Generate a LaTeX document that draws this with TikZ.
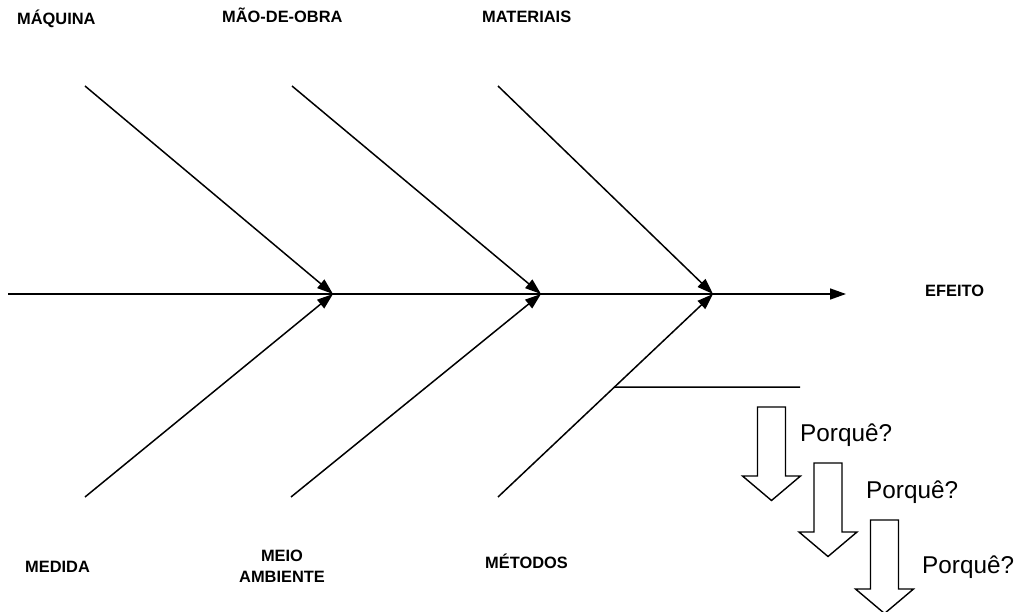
\documentclass[tikz,border=0pt]{standalone}
\usepackage{fontspec}
\setmainfont{Liberation Sans}
\usetikzlibrary{arrows.meta,calc}

\tikzset{
  bone/.style={line width=1.5pt, -{Triangle[length=16pt,width=11pt]}},
  spine/.style={line width=1.5pt, -{Triangle[length=16pt,width=11pt]}},
  branch/.style={line width=1.5pt},
  cat/.style={font=\fontsize{16.4}{19}\selectfont\bfseries, inner sep=0pt, anchor=base west},
  why/.style={font=\fontsize{24.3}{28}\selectfont, inner sep=0pt, anchor=base west},
  whyarrow/.pic={
    \draw[line width=1.4pt, fill=white, line join=miter]
      (-14,0) -- (14,0) -- (14,69) -- (29,69) -- (0,93.5) -- (-29,69) -- (-14,69) -- cycle;
  }
}

\begin{document}
\begin{tikzpicture}[x=1pt, y=-1pt]
  \useasboundingbox (0,0) rectangle (1020,612);

  % spine
  \coordinate (tail) at (8,294);
  \coordinate (head) at (846,294);
  \coordinate (j1) at (333,294);
  \coordinate (j2) at (541,294);
  \coordinate (j3) at (713,294);
  \draw[spine] (tail) -- (head);

  % upper bones
  \coordinate (t1) at (85,86);
  \coordinate (t2) at (292,86);
  \coordinate (t3) at (498,86);
  \draw[bone] (t1) -- (j1);
  \draw[bone] (t2) -- (j2);
  \draw[bone] (t3) -- (j3);

  % lower bones
  \coordinate (b1) at (85,497);
  \coordinate (b2) at (291,497);
  \coordinate (b3) at (498,497);
  \draw[bone] (b1) -- (j1);
  \draw[bone] (b2) -- (j2);
  \draw[bone] (b3) -- (j3);

  % sub-cause on the methods bone
  \coordinate (s0) at ($(b3)!{110/203}!(j3)$);
  \coordinate (s1) at (800,387);
  \draw[branch] (s0) -- (s1);

  % category labels
  \node[cat] (maq) at (17,25) {MÁQUINA};
  \node[cat] (mao) at (222,23) {MÃO-DE-OBRA};
  \node[cat] (mat) at (482,23) {MATERIAIS};
  \node[cat] (efe) at (925,297) {EFEITO};
  \node[cat] (med) at (25,572) {MEDIDA};
  \node[font=\fontsize{16.4}{21}\selectfont\bfseries, inner sep=0pt, align=center] (amb) at (282,566) {MEIO\\AMBIENTE};
  \node[cat] (met) at (485,568) {MÉTODOS};

  % five-whys arrows
  \pic at (771.5,407) {whyarrow};
  \pic at (828,463) {whyarrow};
  \pic at (884.5,520) {whyarrow};

  \node[why] (w1) at (800,441) {Porquê?};
  \node[why] (w2) at (866,498) {Porquê?};
  \node[why] (w3) at (922,573) {Porquê?};
\end{tikzpicture}
\end{document}
